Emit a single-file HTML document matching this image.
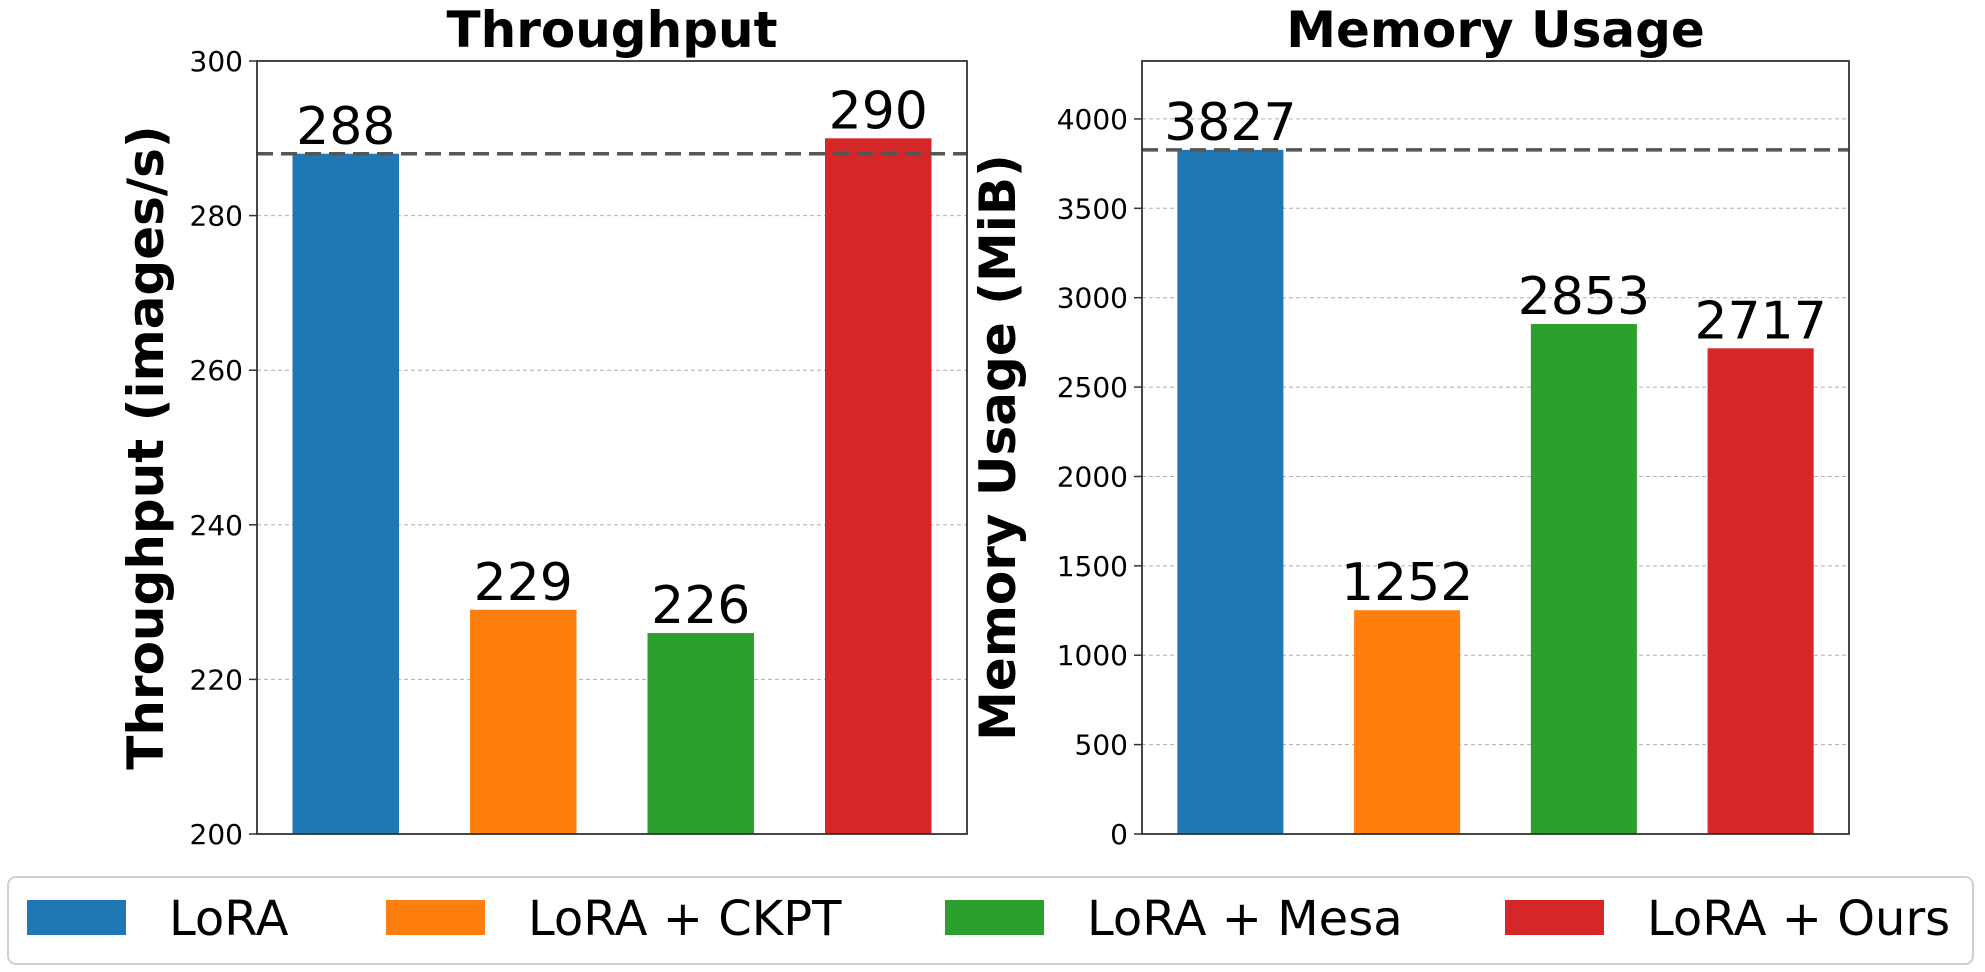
<!DOCTYPE html>
<html><head><meta charset="utf-8"><style>
body{margin:0;background:#fff;}
svg{display:block;font-family:"DejaVu Sans","Liberation Sans",sans-serif;}
</style></head><body>
<svg id="c" width="1985" height="972"></svg>
<script>
const categories=["LoRA","LoRA + CKPT","LoRA + Mesa","LoRA + Ours"];
const colors=["#1f77b4","#ff7f0e","#2ca02c","#d62728"];
const throughput=[288,229,226,290];
const memory=[3827,1252,2853,2717];
const tpTicks=[200,220,240,260,280,300];
const memTicks=[0,500,1000,1500,2000,2500,3000,3500,4000];
const NS="http://www.w3.org/2000/svg";
const svg=document.getElementById('c');
function mk(t,a,p){const e=document.createElementNS(NS,t);for(const k in a)e.setAttribute(k,a[k]);(p||svg).appendChild(e);return e;}
function panel(name,x0,x1,y0,y1,vmin,vmax,vals,ticks,title,ylabel,ref){
  const g=mk('g',{});
  
  
  const y=v=>y1-(v-vmin)/(vmax-vmin)*(y1-y0);
  const bw=(x1-x0)/4;
  const x=i=>x0+(i+0.5)*bw;
  ticks.forEach(t=>{
    const l=mk('line',{x1:x0,x2:x1,y1:y(t),y2:y(t),stroke:'#b0b0b0','stroke-width':1,'stroke-dasharray':'4,3'},g);
    
    
    mk('line',{x1:x0-8,x2:x0,y1:y(t),y2:y(t),stroke:'#333','stroke-width':1.5},g);
    const tx=mk('text',{x:x0-14,y:y(t)+10,'text-anchor':'end','font-size':28},g);
    tx.textContent=t;
    
    
  });
  vals.forEach((v,i)=>{
    const r=mk('rect',{x:x(i)-bw*0.3,width:bw*0.6,y:y(v),height:y1-y(v),fill:colors[i]},g);
    
    
    const t=mk('text',{x:x(i),y:y(v)-10,'text-anchor':'middle','font-size':52},g);
    t.textContent=v;
    
    
  });
  const d=mk('line',{x1:x0,x2:x1,y1:y(ref),y2:y(ref),stroke:'#555','stroke-width':3.5,'stroke-dasharray':'16,8'},g);
  
  
  const fr=mk('rect',{x:x0,y:y0,width:x1-x0,height:y1-y0,fill:'none',stroke:'#333','stroke-width':1.8},g);
  
  
  const tt=mk('text',{x:(x0+x1)/2,y:y0-14,'text-anchor':'middle','font-size':50,'font-weight':'bold'},g);
  tt.textContent=title;
  
  
  const yl=mk('text',{x:0,y:0,'text-anchor':'middle','font-size':50,'font-weight':'bold',transform:`translate(${name==='tp'?163:1015},${(y0+y1)/2}) rotate(-90)`},g);
  yl.textContent=ylabel;
  
  
}
panel('tp',257,967,61,834,200,300,throughput,tpTicks,'Throughput','Throughput (images/s)',throughput[0]);
panel('mem',1142,1849,61,834,0,4324,memory,memTicks,'Memory Usage','Memory Usage (MiB)',memory[0]);
const lg=mk('g',{});


mk('rect',{x:8,y:877,width:1965,height:87,rx:8,fill:'#fff',stroke:'#d0d0d0','stroke-width':2},lg);
const px=[27,386,945,1505];
categories.forEach((c,i)=>{
  const r=mk('rect',{x:px[i],y:900,width:99,height:35,fill:colors[i]},lg);
  
  
  const t=mk('text',{x:px[i]+142,y:935,'font-size':48},lg);
  t.textContent=c;
  
  
});
</script>
</body></html>
